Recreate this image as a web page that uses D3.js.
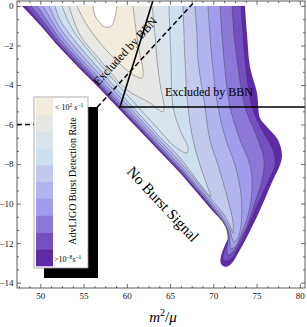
<!DOCTYPE html>
<html>
<head>
<meta charset="utf-8">
<script src="https://cdn.jsdelivr.net/npm/d3@7"></script>
<style>
  html, body { margin: 0; padding: 0; background: #fff; }
  svg { display: block; font-family: 'Liberation Serif', 'DejaVu Serif', serif; }
</style>
</head>
<body>
<div id="chart"></div>
<script>
// detection-rate levels, lightest (<10^2 /s) to darkest (>10^-8 /s)
const levelColors = ['#f2ecdc', '#e7e7e5', '#dbe3ea', '#cde0ef', '#c3c8ed',
  '#b3b4ef', '#a19dec', '#8b78d7', '#7450c2', '#5e2aa6']

const xTicks = [50, 55, 60, 65, 70, 75, 80]
const yTicks = [0, -2, -4, -6, -8, -10, -12, -14]

// region where a burst signal exists (m^2/mu, y)
const outerEdge = [
  [47.88, 0], [49.96, -0.96], [52.27, -2.13], [54.58, -3.19], [56.90, -4.20], [59.09, -5.21],
  [61.52, -6.33], [63.83, -7.39], [66.15, -8.45], [67.65, -9.21], [69.61, -10.22], [71.93, -11.49],
  [71.35, -12.09], [70.89, -12.65], [70.89, -13.05], [71.46, -13.20], [72.16, -13.00], [73.08, -12.34],
  [73.89, -11.69], [75.40, -10.32], [76.90, -8.80], [77.71, -8.05], [77.94, -7.54], [77.48, -6.78],
  [76.21, -6.12], [75.40, -5.67], [75.05, -4.40], [74.24, -3.09], [73.89, -1.37], [73.66, 0]
]

// contour k separates level k from level k+1
const contour1 = [
  [54.24, 0], [55.16, -0.81], [56.90, -1.87], [59.21, -2.94], [60.94, -3.54], [61.75, -3.64],
  [61.87, -3.24], [61.52, -2.48], [61.06, -1.22], [60.71, 0]
]
const contour2 = [
  [53.31, 0], [54.58, -1.47], [56.90, -2.73], [58.05, -3.34], [60.02, -4.25], [62.68, -4.91],
  [64.18, -5.36], [64.30, -5.01], [63.95, -4.25], [63.49, -2.73], [63.26, -1.47], [62.91, 0]
]
const contour3 = [
  [52.50, 0], [53.43, -0.96], [54.58, -1.72], [56.90, -2.94], [59.09, -4.05], [61.52, -5.21],
  [63.83, -6.33], [65.57, -7.13], [66.96, -7.44], [67.07, -7.18], [66.15, -6.27], [65.34, -5.11],
  [65.11, -2.73], [64.99, -1.47], [64.87, 0]
]
const contour4 = [
  [51.69, 0], [52.27, -0.71], [54.58, -2.08], [56.90, -3.24], [59.09, -4.35], [61.52, -5.52],
  [63.83, -6.63], [66.15, -7.69], [68.46, -9.01], [69.73, -9.66], [69.38, -9.21], [68.46, -8.05],
  [67.65, -6.78], [67.07, -5.11], [66.72, -2.73], [66.61, -1.47], [66.49, 0]
]
const contour5 = [
  [51.00, 0], [52.27, -1.12], [54.58, -2.38], [56.90, -3.49], [59.09, -4.55], [61.52, -5.72],
  [63.83, -6.81], [66.15, -7.89], [67.65, -8.68], [69.61, -9.71], [71.23, -10.57], [72.04, -11.23],
  [72.27, -11.49], [72.27, -10.93], [71.70, -9.82], [70.54, -8.05], [69.61, -6.78], [69.04, -5.11],
  [68.23, -2.73], [68.11, -1.47], [67.88, 0]
]
const contour6 = [
  [50.31, 0], [52.27, -1.42], [54.58, -2.63], [56.90, -3.70], [59.09, -4.76], [61.52, -5.90],
  [63.83, -6.98], [66.15, -8.07], [67.65, -8.85], [69.61, -9.87], [71.00, -10.63], [71.93, -11.33],
  [72.16, -11.74], [72.39, -11.94], [72.85, -11.74], [73.20, -11.08], [73.20, -9.56], [72.51, -8.05],
  [71.46, -6.78], [70.54, -5.11], [69.85, -2.73], [69.61, -1.47], [69.38, 0]
]
const contour7 = [
  [49.61, 0], [49.96, -0.21], [52.27, -1.67], [54.58, -2.81], [56.90, -3.87], [59.09, -4.91],
  [61.52, -6.05], [63.83, -7.13], [66.15, -8.20], [67.65, -8.96], [69.61, -9.99], [71.23, -10.93],
  [71.81, -11.54], [71.93, -12.04], [72.04, -12.29], [72.62, -12.14], [73.31, -11.43], [74.01, -10.58],
  [74.47, -9.31], [74.24, -8.05], [73.08, -6.78], [71.93, -5.11], [71.23, -2.73], [71.00, -1.47], [70.77, 0]
]
const contour8 = [
  [48.92, 0], [49.96, -0.56], [52.27, -1.87], [54.58, -2.96], [56.90, -4.00], [59.09, -5.04],
  [61.52, -6.16], [63.83, -7.24], [66.15, -8.30], [67.65, -9.06], [69.61, -10.07], [71.46, -11.23],
  [71.70, -11.84], [71.58, -12.34], [71.70, -12.60], [72.27, -12.45], [73.08, -11.84], [73.89, -11.13],
  [74.70, -10.07], [75.63, -8.80], [75.86, -7.79], [75.05, -6.63], [73.66, -5.11], [72.74, -2.73],
  [72.39, -1.47], [72.16, 0]
]
const contour9 = [
  [48.34, 0], [49.96, -0.84], [52.27, -2.03], [54.58, -3.09], [56.90, -4.11], [59.09, -5.13],
  [61.52, -6.25], [63.83, -7.31], [66.15, -8.37], [67.65, -9.13], [69.61, -10.14], [71.70, -11.38],
  [71.58, -12.04], [71.12, -12.65], [71.23, -12.90], [72.04, -12.80], [72.85, -12.24], [73.66, -11.54],
  [74.93, -10.22], [76.32, -8.91], [77.13, -8.05], [76.90, -7.29], [75.63, -6.27], [74.47, -5.11],
  [73.66, -2.73], [73.43, -1.47], [73.20, 0]
]
// unfilled pocket above the top level
const topPocket = [
  [56.09, 0], [56.30, -0.46], [56.90, -0.86], [57.50, -1.07], [58.20, -1.02], [58.60, -0.61], [58.86, 0]
]

// BBN bounds
const bbnSolid = [[63.0, 0.25], [59.21, -5.11], [80.6, -5.11]]
const bbnDashed = [[47.3, -6.0], [54.73, -6.0], [67.9, 0.25]]

const contours = [contour1, contour2, contour3, contour4, contour5, contour6, contour7, contour8, contour9]

const W = 307
const H = 327
const plotBox = { left: 17, right: 305, top: 1, bottom: 288 }

const svg = d3.select('#chart').append('svg')
  .attr('width', W)
  .attr('height', H)

const x = d3.scaleLinear().domain([47.3, 80.6]).range([plotBox.left, plotBox.right])
const y = d3.scaleLinear().domain([0.25, -14.27]).range([plotBox.top, plotBox.bottom])

svg.append('clipPath').attr('id', 'plotClip')
  .append('rect')
  .attr('x', plotBox.left)
  .attr('y', plotBox.top)
  .attr('width', plotBox.right - plotBox.left)
  .attr('height', plotBox.bottom - plotBox.top)

const plot = svg.append('g').attr('clip-path', 'url(#plotClip)')

const smooth = d3.line()
  .x(d => x(d[0]))
  .y(d => y(d[1]))
  .curve(d3.curveCatmullRom.alpha(0.5))
const straight = d3.line().x(d => x(d[0])).y(d => y(d[1]))

// filled bands, outermost first
const regions = [outerEdge].concat(contours.slice().reverse())
plot.selectAll('.band')
  .data(regions)
  .join('path')
  .attr('class', 'band')
  .attr('d', d => smooth(d) + 'Z')
  .attr('fill', (d, i) => levelColors[levelColors.length - 1 - i])

plot.selectAll('.iso')
  .data(contours)
  .join('path')
  .attr('class', 'iso')
  .attr('d', d => smooth(d))
  .attr('fill', 'none')
  .attr('stroke', '#333')
  .attr('stroke-width', 0.5)
  .attr('stroke-opacity', 0.75)

plot.append('path')
  .attr('d', smooth(topPocket) + 'Z')
  .attr('fill', '#fff')
plot.append('path')
  .attr('d', smooth(topPocket))
  .attr('fill', 'none')
  .attr('stroke', '#333')
  .attr('stroke-width', 0.5)
  .attr('stroke-opacity', 0.75)

plot.append('path')
  .attr('d', straight(bbnSolid))
  .attr('fill', 'none')
  .attr('stroke', '#000')
  .attr('stroke-width', 1.6)
plot.append('path')
  .attr('d', straight(bbnDashed))
  .attr('fill', 'none')
  .attr('stroke', '#000')
  .attr('stroke-width', 1.5)
  .attr('stroke-dasharray', '5,3')

// annotations
const dashAngle = Math.atan2(y(bbnDashed[2][1]) - y(bbnDashed[1][1]), x(bbnDashed[2][0]) - x(bbnDashed[1][0])) * 180 / Math.PI
svg.append('text')
  .attr('transform', `translate(${x(59.79)},${y(-2.28)}) rotate(${dashAngle})`)
  .attr('text-anchor', 'middle')
  .attr('dy', '0.35em')
  .attr('font-size', 12)
  .text('Excluded by BBN')

svg.append('text')
  .attr('x', x(64.41))
  .attr('y', y(-4.56))
  .attr('font-size', 12)
  .text('Excluded by BBN')

const edgeAngle = Math.atan2(y(outerEdge[9][1]) - y(outerEdge[0][1]), x(outerEdge[9][0]) - x(outerEdge[0][0])) * 180 / Math.PI
svg.append('text')
  .attr('transform', `translate(${x(64.18)},${y(-10.02)}) rotate(${edgeAngle})`)
  .attr('text-anchor', 'middle')
  .attr('dy', '0.35em')
  .attr('font-size', 15)
  .text('No Burst Signal')

// frame and ticks
function styleAxis(g) {
  g.select('.domain').remove()
  g.selectAll('line').attr('stroke', '#333').attr('stroke-width', 0.7)
  g.attr('font-family', "'Liberation Serif', serif").attr('font-size', 9)
  g.selectAll('text').attr('fill', '#111')
}
const xMinor = d3.range(0, 28).map(i => 47.5 + i * 1.25).filter(v => v <= 80.6 && !xTicks.includes(v))
const yMinor = d3.range(0, 22).map(i => -i * 2 / 3).filter(v => Math.abs(v % 2) > 0.01)

const fmtY = d => (d < 0 ? '\u2212' + Math.abs(d) : String(d))

svg.append('g').attr('transform', `translate(0,${plotBox.bottom})`)
  .call(d3.axisBottom(x).tickValues(xTicks).tickSize(-4).tickPadding(5)).call(styleAxis)
svg.append('g').attr('transform', `translate(0,${plotBox.bottom})`)
  .call(d3.axisBottom(x).tickValues(xMinor).tickSize(-2).tickFormat('')).call(styleAxis)
svg.append('g').attr('transform', `translate(0,${plotBox.top})`)
  .call(d3.axisTop(x).tickValues(xTicks).tickSize(-4).tickFormat('')).call(styleAxis)
svg.append('g').attr('transform', `translate(0,${plotBox.top})`)
  .call(d3.axisTop(x).tickValues(xMinor).tickSize(-2).tickFormat('')).call(styleAxis)

svg.append('g').attr('transform', `translate(${plotBox.left},0)`)
  .call(d3.axisLeft(y).tickValues(yTicks).tickSize(-4).tickPadding(3.5).tickFormat(fmtY)).call(styleAxis)
svg.append('g').attr('transform', `translate(${plotBox.left},0)`)
  .call(d3.axisLeft(y).tickValues(yMinor).tickSize(-2).tickFormat('')).call(styleAxis)
svg.append('g').attr('transform', `translate(${plotBox.right},0)`)
  .call(d3.axisRight(y).tickValues(yTicks).tickSize(-4).tickFormat('')).call(styleAxis)
svg.append('g').attr('transform', `translate(${plotBox.right},0)`)
  .call(d3.axisRight(y).tickValues(yMinor).tickSize(-2).tickFormat('')).call(styleAxis)

svg.append('rect')
  .attr('x', plotBox.left)
  .attr('y', plotBox.top)
  .attr('width', plotBox.right - plotBox.left)
  .attr('height', plotBox.bottom - plotBox.top)
  .attr('fill', 'none')
  .attr('stroke', '#333')
  .attr('stroke-width', 0.8)

const xTitle = svg.append('text')
  .attr('x', 163)
  .attr('y', 322)
  .attr('text-anchor', 'middle')
  .attr('font-size', 15)
xTitle.append('tspan').attr('font-style', 'italic').text('m')
xTitle.append('tspan').attr('font-size', 10).attr('dy', -6).text('2')
xTitle.append('tspan').attr('dy', 6).text('/')
xTitle.append('tspan').attr('font-style', 'italic').text('\u03bc')

// legend with drop shadow
const legend = svg.append('g')
legend.append('rect')
  .attr('x', 44).attr('y', 107).attr('width', 54).attr('height', 171)
  .attr('fill', '#000')
legend.append('rect')
  .attr('x', 34).attr('y', 97).attr('width', 54).attr('height', 171)
  .attr('fill', '#fff')
  .attr('stroke', '#999')
  .attr('stroke-width', 0.8)

const swatch = d3.scaleBand().domain(d3.range(levelColors.length)).range([98, 266])
legend.selectAll('.swatch')
  .data(levelColors)
  .join('rect')
  .attr('class', 'swatch')
  .attr('x', 36)
  .attr('y', (d, i) => swatch(i))
  .attr('width', 17)
  .attr('height', swatch.bandwidth() + 0.3)
  .attr('fill', d => d)

const topLabel = legend.append('text').attr('x', 55).attr('y', 110).attr('font-size', 8)
topLabel.append('tspan').text('< 10')
topLabel.append('tspan').attr('font-size', 5.5).attr('dy', -3.5).text('2')
topLabel.append('tspan').attr('dy', 3.5).attr('font-style', 'italic').text(' s')
topLabel.append('tspan').attr('font-size', 5.5).attr('dy', -3.5).text('\u22121')

const botLabel = legend.append('text').attr('x', 54).attr('y', 262).attr('font-size', 8)
botLabel.append('tspan').text('>10')
botLabel.append('tspan').attr('font-size', 5.5).attr('dy', -3.5).text('\u22128')
botLabel.append('tspan').attr('dy', 3.5).attr('font-style', 'italic').text('s')
botLabel.append('tspan').attr('font-size', 5.5).attr('dy', -3.5).text('\u22121')

legend.append('text')
  .attr('transform', 'translate(75.5,181) rotate(-90)')
  .attr('text-anchor', 'middle')
  .attr('font-size', 10)
  .text('AdvLIGO Burst Detection Rate')
</script>
</body>
</html>
